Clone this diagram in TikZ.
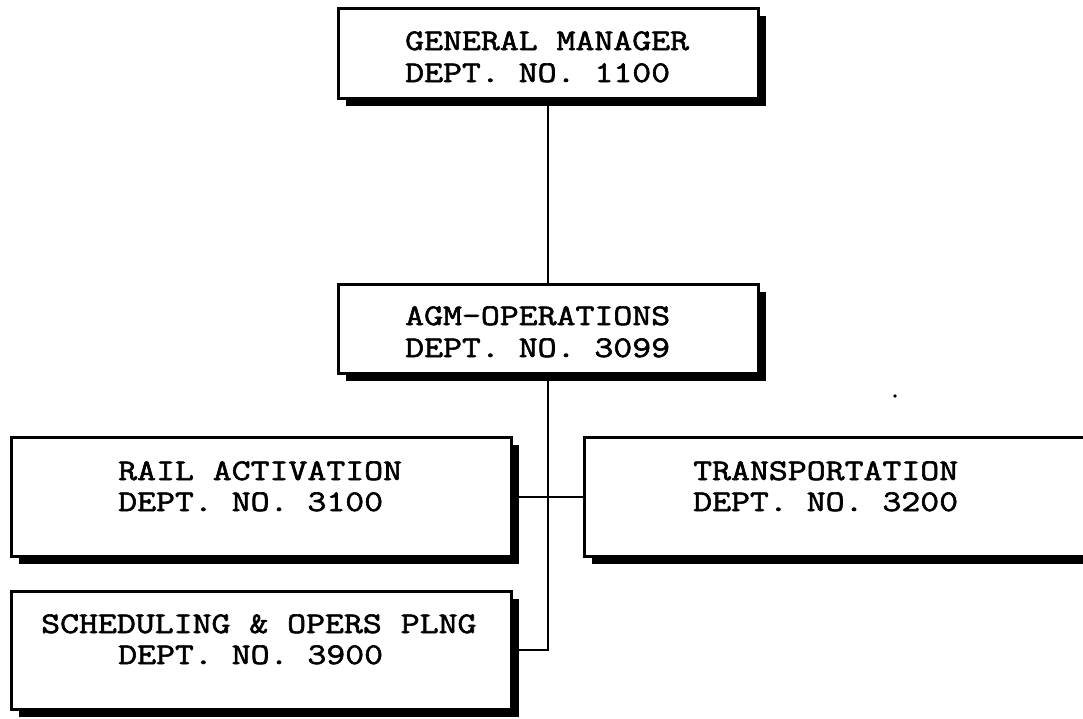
\documentclass[tikz,border=0pt]{standalone}
\usepackage{fontspec}
\usetikzlibrary{shadows}
% heavy typewriter face for all department labels
\newfontfamily\typefont[FakeBold=2,FakeStretch=1.225]{Latin Modern Mono}
\begin{document}
\begin{tikzpicture}[x=1pt,y=-1pt,
  deptbox/.style={draw=black, line width=2.6pt, fill=white, rectangle,
    inner sep=0pt, anchor=north west,
    drop shadow={opacity=1, fill=black, shadow xshift=8pt, shadow yshift=-8pt}},
  link/.style={draw=black, line width=2pt},
  deptlabel/.style={anchor=base west, inner sep=0pt,
    font=\typefont\fontsize{30}{30}\selectfont}]
\useasboundingbox (0,0) rectangle (1083,718);

% department boxes
\node[deptbox, minimum width=420pt, minimum height=90pt] (gm) at (337,7) {};
\node[deptbox, minimum width=420pt, minimum height=89pt] (agm) at (337,283) {};
\node[deptbox, minimum width=500pt, minimum height=119pt] (rail) at (10,436) {};
\node[deptbox, minimum width=540pt, minimum height=119pt] (trans) at (583,436) {};
\node[deptbox, minimum width=500pt, minimum height=118pt] (sched) at (10,590) {};

% reporting lines
\draw[link] (gm.south) -- (agm.north);
\draw[link] (agm.south) |- (sched.east);
\draw[link] (rail.east) -- (trans.west);

% labels
\node[deptlabel] (gm1) at (405,50) {GENERAL MANAGER};
\node[deptlabel] (gm2) at (405,82) {DEPT. NO. 1100};
\node[deptlabel] (agm1) at (405,325) {AGM-OPERATIONS};
\node[deptlabel] (agm2) at (405,357) {DEPT. NO. 3099};
\node[deptlabel] (rail1) at (118,480) {RAIL ACTIVATION};
\node[deptlabel] (rail2) at (118,511) {DEPT. NO. 3100};
\node[deptlabel] (trans1) at (693,480) {TRANSPORTATION};
\node[deptlabel] (trans2) at (693,511) {DEPT. NO. 3200};
\node[deptlabel] (sched1) at (41,633) {SCHEDULING \& OPERS PLNG};
\node[deptlabel] (sched2) at (118,664) {DEPT. NO. 3900};

% stray speck
\node[circle, fill=black, inner sep=1.3pt] (speck) at (895,396) {};
\end{tikzpicture}
\end{document}
